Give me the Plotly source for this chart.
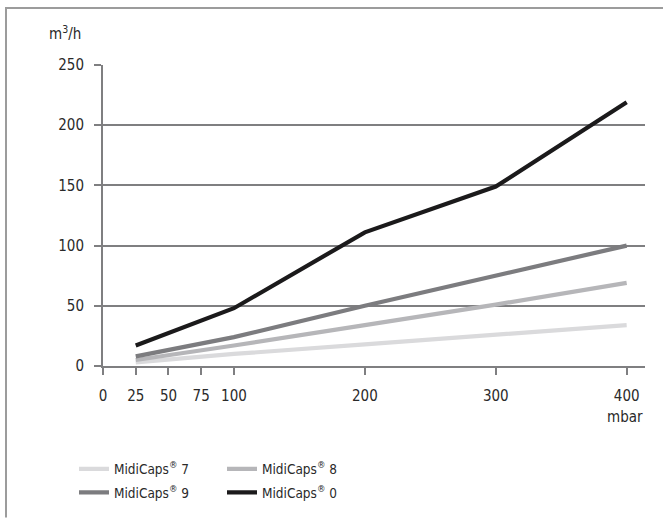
import plotly.graph_objects as go

pressure = [25, 100, 200, 300, 400]
flow_7 = [3, 10, 18, 26, 34]
flow_8 = [5, 17, 34, 51, 69]
flow_9 = [8, 24, 50, 75, 100]
flow_0 = [17, 48, 111, 149, 219]

x_ticks = [0, 25, 50, 75, 100, 200, 300, 400]
y_ticks = [0, 50, 100, 150, 200, 250]

series = [
    ("MidiCaps<sup>®</sup> 7", flow_7, "#dadadc", "legend"),
    ("MidiCaps<sup>®</sup> 8", flow_8, "#b6b6b9", "legend"),
    ("MidiCaps<sup>®</sup> 9", flow_9, "#7c7c7f", "legend2"),
    ("MidiCaps<sup>®</sup> 0", flow_0, "#1b1a1b", "legend2"),
]

FONT = "DejaVu Sans Condensed, Liberation Sans Narrow, sans-serif"
W, H = 663, 520
L, R, T, B = 103, 18, 65, 149
pw = W - L - R
ph = H - T - B

def px_x(p):
    return (p - L) / pw

def px_y(p):
    return (H - B - p) / ph

fig = go.Figure()
for name, vals, color, lg in series:
    fig.add_trace(go.Scatter(
        x=pressure, y=vals, mode="lines", name=name,
        line=dict(color=color, width=4.2), legend=lg,
    ))

axis_color = "#7f7f81"
legend_common = dict(
    orientation="h", xanchor="left", yanchor="top",
    entrywidth=103, entrywidthmode="pixels", font=dict(size=13.5),
    bgcolor="rgba(0,0,0,0)", tracegroupgap=0,
)
fig.update_layout(
    width=W, height=H,
    margin=dict(l=L, r=R, t=T, b=B),
    paper_bgcolor="white", plot_bgcolor="white",
    font=dict(family=FONT, size=15, color="#2a2a2a"),
    xaxis=dict(
        range=[0, 414], tickvals=x_ticks, ticktext=[str(v) for v in x_ticks],
        showgrid=False, zeroline=False, showline=True, linecolor=axis_color,
        linewidth=2, ticks="outside", ticklen=7, tickwidth=2, tickcolor=axis_color,
        tickfont=dict(size=15), ticklabelstandoff=8,
    ),
    yaxis=dict(
        range=[0, 250], tickvals=y_ticks, showgrid=True, gridcolor=axis_color,
        gridwidth=2, zeroline=False, showline=True, linecolor=axis_color,
        linewidth=2, ticks="outside", ticklen=7, tickwidth=2, tickcolor=axis_color,
        tickfont=dict(size=15), ticklabelstandoff=7,
    ),
    legend=dict(x=px_x(74), y=px_y(460), **legend_common),
    legend2=dict(x=px_x(74), y=px_y(484), **legend_common),
    showlegend=True,
    shapes=[
        dict(type="line", xref="paper", yref="paper", x0=px_x(6), x1=px_x(6),
             y0=px_y(6), y1=px_y(H + 5), line=dict(color="#9c9c9c", width=2)),
        dict(type="line", xref="paper", yref="paper", x0=px_x(6), x1=px_x(W + 5),
             y0=px_y(7), y1=px_y(7), line=dict(color="#9c9c9c", width=2)),
    ],
    annotations=[
        dict(text="m<sup>3</sup>/h", xref="paper", yref="paper", x=px_x(65), y=px_y(32),
             xanchor="center", yanchor="middle", showarrow=False, font=dict(size=15)),
        dict(text="mbar", xref="paper", yref="paper", x=px_x(645), y=px_y(423),
             xanchor="right", yanchor="middle", showarrow=False, font=dict(size=15)),
    ],
)

fig.write_html(
    "out.html",
    config={"displayModeBar": False},
    post_script="document.body.style.margin='0';document.body.style.overflow='hidden';",
)
